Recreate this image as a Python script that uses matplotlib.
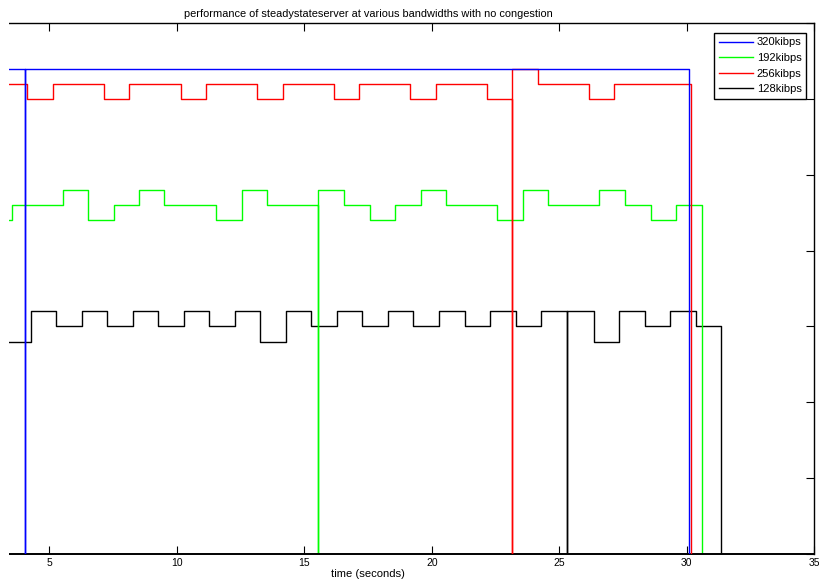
import matplotlib
matplotlib.use("Agg")
import matplotlib.pyplot as plt
from matplotlib.patches import Rectangle

plt.rcParams["font.family"] = ["Liberation Sans", "DejaVu Sans"]
plt.rcParams["font.size"] = 7

# change points for each series (time in s, level); a 0 at a repeated time is a drop-out spike
t_320 = [3.0, 4.05, 4.05, 30.09]
v_320 = [320, 0, 320, 0]

t_192 = [3.0, 3.52, 5.53, 6.52, 7.53, 8.53, 9.51, 11.53, 12.54, 13.52, 15.53, 15.53, 16.55,
         17.56, 18.57, 19.58, 20.57, 22.57, 23.56, 24.57, 26.57, 27.57, 28.59, 29.57, 30.58]
v_192 = [220, 230, 240, 220, 230, 240, 230, 220, 240, 230, 0, 240, 230,
         220, 230, 240, 230, 220, 240, 230, 240, 230, 220, 230, 0]

t_256 = [3.0, 4.14, 5.15, 7.15, 8.14, 10.16, 11.15, 13.16, 14.16, 16.16, 17.15, 19.15, 20.16,
         22.18, 23.16, 23.16, 24.17, 26.17, 27.16, 30.17]
v_256 = [310, 300, 310, 300, 310, 300, 310, 300, 310, 300, 310, 300, 310,
         300, 0, 320, 310, 300, 310, 0]

t_128 = [3.0, 4.27, 5.26, 6.27, 7.26, 8.27, 9.27, 10.27, 11.27, 12.28, 13.28, 14.28, 15.28,
         16.28, 17.28, 18.28, 19.26, 20.28, 21.29, 22.28, 23.29, 24.29, 25.32, 25.32, 26.35,
         27.35, 28.35, 29.36, 30.35, 31.35]
v_128 = [140, 160, 150, 160, 150, 160, 150, 160, 150, 160, 140, 160, 150,
         160, 150, 160, 150, 160, 150, 160, 150, 160, 0, 160, 140,
         160, 150, 160, 150, 0]

labels = ["320kibps", "192kibps", "256kibps", "128kibps"]
x_ticks = [0, 5, 10, 15, 20, 25, 30, 35]
x_ticklabels = ["", "5", "10", "15", "20", "25", "30", "35"]   # 0 sits in the cropped-off part
y_ticks = [0, 50, 100, 150, 200, 250, 300, 350]

fig = plt.figure(figsize=(8.2, 5.81), dpi=100)
# original was cropped on the left: axes start off-canvas at x=0
ax = fig.add_axes([-0.0954, 0.047, 1.0884, 0.9126])

series = [(t_320, v_320, "#0000ff", 4), (t_192, v_192, "#00ff00", 2),
          (t_256, v_256, "#ff0000", 3), (t_128, v_128, "black", 1)]
handles = []
for (t, v, c, z), lab in zip(series, labels):
    h, = ax.step(t, v, where="post", color=c, lw=1.0, zorder=z, label=lab)
    handles.append(h)

ax.set_xlim(0, 35)
ax.set_ylim(0, 350)
ax.set_xticks(x_ticks, x_ticklabels)
ax.set_yticks(y_ticks)
ax.tick_params(direction="in", length=5.5, width=0.8, top=True, right=True, pad=3,
               labelleft=False)
ax.tick_params(axis="x", labelsize=7.5)
for s in ax.spines.values():
    s.set_linewidth(1.0)
ax.spines["bottom"].set_linewidth(1.4)

ax.set_title("performance of steadystateserver at various bandwidths with no congestion",
             pad=5, fontsize=7.9)
ax.set_xlabel("time (seconds)", labelpad=1, fontsize=8.1)

leg = ax.legend(handles=handles, loc="upper right", bbox_to_anchor=(0.9907, 0.982),
                fancybox=False, framealpha=1, edgecolor="black", handlelength=3.1,
                labelspacing=0.5, borderpad=0.4, handletextpad=0.3, borderaxespad=0,
                fontsize=8)
leg.get_frame().set_linewidth(1.0)

# blank strip left by the crop
fig.add_artist(Rectangle((0, 0), 9 / 820, 1, transform=fig.transFigure,
                         facecolor="white", edgecolor="none", zorder=10))

fig.savefig("out.png", dpi=100)
